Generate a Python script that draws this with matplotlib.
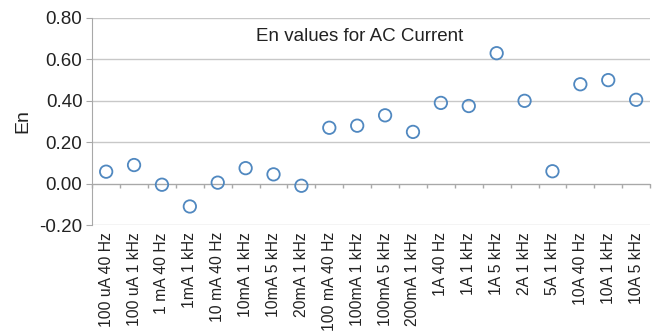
import numpy as np
import matplotlib.pyplot as plt

plt.rcParams['font.family'] = ['Liberation Sans', 'DejaVu Sans']

categories = ['100 uA 40 Hz', '100 uA 1 kHz', '1 mA 40 Hz', '1mA 1 kHz', '10 mA 40 Hz',
              '10mA 1 kHz', '10mA 5 kHz', '20mA 1 kHz', '100 mA 40 Hz', '100mA 1 kHz',
              '100mA 5 kHz', '200mA 1 kHz', '1A 40 Hz', '1A 1 kHz', '1A 5 kHz',
              '2A 1 kHz', '5A 1 kHz', '10A 40 Hz', '10A 1 kHz', '10A 5 kHz']
en_values = [0.058, 0.09, -0.005, -0.11, 0.005, 0.075, 0.045, -0.01, 0.27, 0.28,
             0.33, 0.25, 0.39, 0.375, 0.63, 0.40, 0.06, 0.48, 0.50, 0.405]
y_ticks = [-0.2, 0.0, 0.2, 0.4, 0.6, 0.8]

fig_w, fig_h = 6.54, 3.33
ax_rect = [0.141, 0.324, 0.853, 0.622]
fig = plt.figure(figsize=(fig_w, fig_h), dpi=100)
ax = fig.add_axes(ax_rect)

x = np.arange(len(categories))
ax.scatter(x, en_values, s=80, facecolors='none', edgecolors='#5088c0', linewidths=1.3, zorder=3)

ax.set_xlim(-0.5, len(categories) - 0.5)
ax.set_ylim(y_ticks[0], y_ticks[-1])
ax.set_yticks(y_ticks)
ax.set_yticklabels([f'{v:.2f}' for v in y_ticks], fontsize=13.5, color='#222222')
ax.tick_params(axis='y', length=4, color='#a8a8a8', pad=3)
ax.grid(axis='y', color='#c8c8c8', linewidth=1)
ax.set_axisbelow(True)

for side in ['top', 'right']:
    ax.spines[side].set_visible(False)
ax.spines['left'].set_color('#a8a8a8')

# category axis sits on y = 0, labels pushed down below the plot area
ax.spines['bottom'].set_position(('data', 0))
ax.spines['bottom'].set_color('#a8a8a8')
below_pts = (0 - y_ticks[0]) / (y_ticks[-1] - y_ticks[0]) * ax_rect[3] * fig_h * 72
ax.set_xticks(x)
ax.set_xticklabels(categories, rotation=90, fontsize=11.3, color='#222222')
ax.tick_params(axis='x', which='major', length=0, pad=below_pts + 5, color='none')
ax.set_xticks(np.arange(len(categories) + 1) - 0.5, minor=True)
ax.tick_params(axis='x', which='minor', length=3, width=1, color='#a8a8a8', direction='out')

ax.set_ylabel('En', fontsize=14, color='#222222', labelpad=6)
ax.text(0.48, 0.95, 'En values for AC Current', transform=ax.transAxes,
        ha='center', va='top', fontsize=13.5, color='#222222')

fig.savefig('out.png', dpi=100)
